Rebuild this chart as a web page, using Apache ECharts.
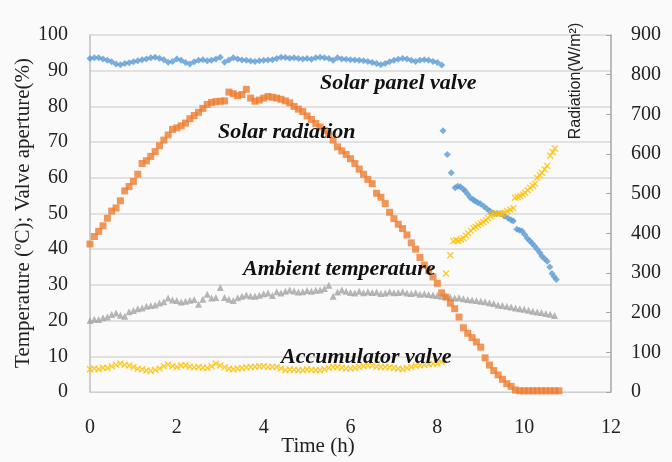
<!DOCTYPE html>
<html>
<head>
<meta charset="utf-8">
<script src="https://cdn.jsdelivr.net/npm/echarts@6/dist/echarts.min.js"></script>
<style>html,body{margin:0;padding:0;background:#fafafa;}#c{width:672px;height:462px;}</style>
</head>
<body>
<div id="c"></div>
<script>
// sampling step (h) for the densely logged part of each series
var T_STEP = 0.1;

// Solar panel valve (%), t = 0 .. 8.1 h
var solarPanelValve = [
  93.4,93.6,93.6,93.3,92.9,92.5,91.9,91.7,92.0,92.2,
  92.5,92.8,93.1,93.3,93.6,93.8,93.5,93.1,92.4,92.6,
  93.3,92.9,92.3,91.9,92.5,92.9,93.1,92.8,92.9,93.3,
  93.8,92.4,93.0,93.6,93.3,93.0,92.9,92.7,92.6,92.8,
  92.9,93.0,93.1,93.4,93.8,93.7,93.5,93.6,93.4,93.3,
  93.4,93.2,93.6,93.8,93.6,93.4,92.9,93.6,93.3,93.2,
  93.1,93.0,92.9,92.8,92.6,92.3,92.0,91.7,92.0,92.5,
  92.9,93.2,93.4,93.3,92.9,92.6,92.9,93.1,92.9,92.6,
  92.3,91.6
];
// Solar panel valve after 8.1 h: times and values
var solarPanelValveTailTime = [8.13,8.23,8.32,8.41,8.47,8.53,8.6,8.64,8.7,8.76,8.82,8.87,8.93,8.99,9.07,9.14,9.21,9.29,9.37,9.45,9.54,9.63,9.7,9.75,9.83,9.89,9.95,10.01,10.07,10.13,10.18,10.24,10.3,10.36,10.41,10.47,10.53,10.59,10.64,10.69,10.74];
var solarPanelValveTail = [73.2,66.5,61.4,57.2,57.6,57.5,56.8,56.3,55.4,54.4,53.9,53.5,53.1,52.7,52.0,51.3,50.7,50.1,50.0,49.9,49.3,48.7,48.2,47.9,45.6,45.3,45.1,44.1,43.1,42.4,41.7,40.9,40.0,39.0,38.0,37.3,36.6,35.0,33.2,32.3,31.5];

// Solar radiation (W/m2), t = 0 .. 10.8 h
var solarRadiation = [
  373,392,405,419,438,456,464,482,507,518,
  531,549,576,583,594,606,621,635,648,662,
  666,671,678,689,697,705,715,725,730,732,
  733,734,756,752,747,750,763,741,733,736,
  741,745,743,741,738,734,729,720,713,707,
  696,687,677,668,659,650,635,618,608,599,
  588,576,562,549,536,525,501,491,475,453,
  437,423,412,396,376,360,339,320,306,290,
  274,250,239,224,210,189,162,148,137,126,
  113,86,68,54,43,32,21,14,5,3,
  3,3,3,3,3,3,3,3,3
];

// Ambient temperature (°C), t = 0 .. 10.7 h
var ambientTemperature = [
  20.0,20.4,20.3,20.8,21.0,21.7,22.1,21.5,21.2,22.5,
  22.8,23.3,23.5,24.0,24.2,24.4,24.9,25.3,26.3,25.8,
  25.6,25.2,25.4,25.7,25.9,24.6,26.0,27.4,26.3,26.5,
  29.3,26.5,26.0,25.6,26.4,26.8,27.2,26.9,26.8,27.1,
  27.5,27.7,27.0,28.1,27.7,28.2,28.6,28.3,28.0,28.1,
  28.4,28.2,28.5,28.6,29.0,29.9,26.8,28.0,28.6,28.2,
  27.9,27.7,28.2,27.8,28.1,27.9,28.0,27.6,27.7,28.1,
  27.8,27.9,28.1,27.7,27.6,27.8,27.4,27.5,27.3,27.2,
  27.0,26.8,26.9,26.5,26.3,26.4,26.1,25.9,25.8,25.6,
  25.4,25.3,25.0,24.8,24.4,24.2,24.0,23.8,23.5,23.3,
  23.2,22.9,22.6,22.4,22.3,22.0,21.8,21.4
];

// Accumulator valve (%), t = 0 .. 8.1 h
var accumulatorValve = [
  6.4,6.6,6.4,6.8,6.7,7.2,7.6,8.0,7.6,7.4,
  7.0,6.5,6.4,6.0,5.9,6.2,6.6,7.2,7.7,7.3,
  7.0,7.4,7.5,7.1,6.9,7.0,6.8,6.7,7.2,8.0,
  7.4,6.9,6.5,6.4,6.6,6.7,6.9,7.0,7.1,7.2,
  7.2,7.0,7.1,7.0,6.6,6.1,6.3,6.2,6.1,6.1,
  6.3,6.2,6.1,6.1,6.4,6.7,7.0,7.0,6.8,6.6,
  6.6,6.7,7.0,7.3,7.5,7.4,7.1,7.0,7.0,6.9,
  6.7,6.5,6.4,6.7,7.0,7.4,7.5,7.6,7.8,7.9,
  8.0,8.4
];
// Accumulator valve after 8.1 h
var accumulatorValveTailTime = [8.2,8.3,8.37,8.43,8.48,8.54,8.6,8.66,8.71,8.77,8.83,8.88,8.94,9.0,9.06,9.12,9.17,9.22,9.26,9.32,9.38,9.44,9.49,9.55,9.61,9.68,9.75,9.79,9.85,9.91,9.97,10.02,10.08,10.14,10.2,10.25,10.3,10.36,10.41,10.47,10.53,10.6,10.66,10.71];
var accumulatorValveTail = [33.2,38.3,42.3,42.5,42.3,42.8,43.1,43.8,44.5,45.2,45.9,46.3,46.8,47.2,47.6,48.1,48.7,49.3,49.9,49.9,49.9,50.0,49.9,50.3,50.7,51.1,51.5,54.4,54.6,54.9,55.3,55.8,56.5,57.2,57.8,58.3,60.0,60.7,61.4,62.4,63.4,66.2,67.2,68.2];

var xTicks = [0,2,4,6,8,10,12];
var leftTicks = [0,10,20,30,40,50,60,70,80,90,100];
var rightTicks = [0,100,200,300,400,500,600,700,800,900];

function gridPairs(vals){ return vals.map(function(v,i){ return [Math.round(i*T_STEP*100)/100, v]; }); }
function pairs(ts, vs){ return ts.map(function(t,i){ return [t, vs[i]]; }); }

var serif = '"Liberation Serif","Times New Roman",serif';
var xMark = 'path://M0,1.4L1.4,0L5,3.6L8.6,0L10,1.4L6.4,5L10,8.6L8.6,10L5,6.4L1.4,10L0,8.6L3.6,5Z';

var chart = echarts.init(document.getElementById('c'), null, {renderer:'canvas'});
chart.setOption({
  backgroundColor:'#fafafa',
  animation:false,
  grid:{left:90, right:61, top:35, bottom:70},
  xAxis:{
    type:'value', min:xTicks[0], max:xTicks[xTicks.length-1], interval:2,
    axisLine:{show:true, lineStyle:{color:'#d0d0d0', width:1}},
    axisTick:{show:false},
    splitLine:{show:false},
    axisLabel:{fontFamily:serif, fontSize:20, color:'#222', margin:26}
  },
  yAxis:[{
    type:'value', min:leftTicks[0], max:leftTicks[leftTicks.length-1], interval:10,
    axisLine:{show:true, lineStyle:{color:'#bfbfbf', width:1.5}},
    axisTick:{show:false},
    splitLine:{show:true, lineStyle:{color:'#d9d9d9', width:1.5}},
    axisLabel:{fontFamily:serif, fontSize:20, color:'#222', margin:22}
  },{
    type:'value', min:rightTicks[0], max:rightTicks[rightTicks.length-1], interval:100,
    position:'right',
    axisLine:{show:true, lineStyle:{color:'#a6a6a6', width:1.5}},
    axisTick:{show:true, inside:true, length:5, lineStyle:{color:'#a6a6a6'}},
    splitLine:{show:false},
    axisLabel:{fontFamily:serif, fontSize:20, color:'#222', margin:20}
  }],
  series:[
    {name:'Solar panel valve', type:'scatter', yAxisIndex:0, symbol:'diamond', symbolSize:7,
      itemStyle:{color:'#5B9BD5'}, data:gridPairs(solarPanelValve).concat(pairs(solarPanelValveTailTime, solarPanelValveTail))},
    {name:'Ambient temperature', type:'scatter', yAxisIndex:0, symbol:'triangle', symbolSize:7,
      itemStyle:{color:'#A5A5A5'}, data:gridPairs(ambientTemperature)},
    {name:'Solar radiation', type:'scatter', yAxisIndex:1, symbol:'rect', symbolSize:7,
      itemStyle:{color:'#ED7D31'}, data:gridPairs(solarRadiation)},
    {name:'Accumulator valve', type:'scatter', yAxisIndex:0, symbol:xMark, symbolSize:7,
      itemStyle:{color:'#FFC000'}, data:gridPairs(accumulatorValve).concat(pairs(accumulatorValveTailTime, accumulatorValveTail))}
  ],
  graphic:[
    {type:'text', left:320, top:72, z:100, style:{text:'Solar panel valve', font:'italic bold 22px '+serif, fill:'#111'}},
    {type:'text', left:218, top:121, z:100, style:{text:'Solar radiation', font:'italic bold 22px '+serif, fill:'#111'}},
    {type:'text', left:243, top:258, z:100, style:{text:'Ambient temperature', font:'italic bold 22px '+serif, fill:'#111'}},
    {type:'text', left:281, top:346, z:100, style:{text:'Accumulator valve', font:'italic bold 22px '+serif, fill:'#111'}},
    {type:'text', z:100, x:318, y:446, style:{text:'Time (h)', font:'21px '+serif, fill:'#222', align:'center', verticalAlign:'middle'}},
    {type:'text', z:100, x:23, y:213, rotation:Math.PI/2, style:{text:'Temperature (ºC); Valve aperture(%)', font:'21px '+serif, fill:'#222', align:'center', verticalAlign:'middle'}},
    {type:'text', z:100, x:576, y:81, rotation:Math.PI/2, style:{text:'Radiation(W/m²)', font:'16px "Liberation Sans",Arial,sans-serif', fill:'#222', align:'center', verticalAlign:'middle'}}
  ]
});
</script>
</body>
</html>
